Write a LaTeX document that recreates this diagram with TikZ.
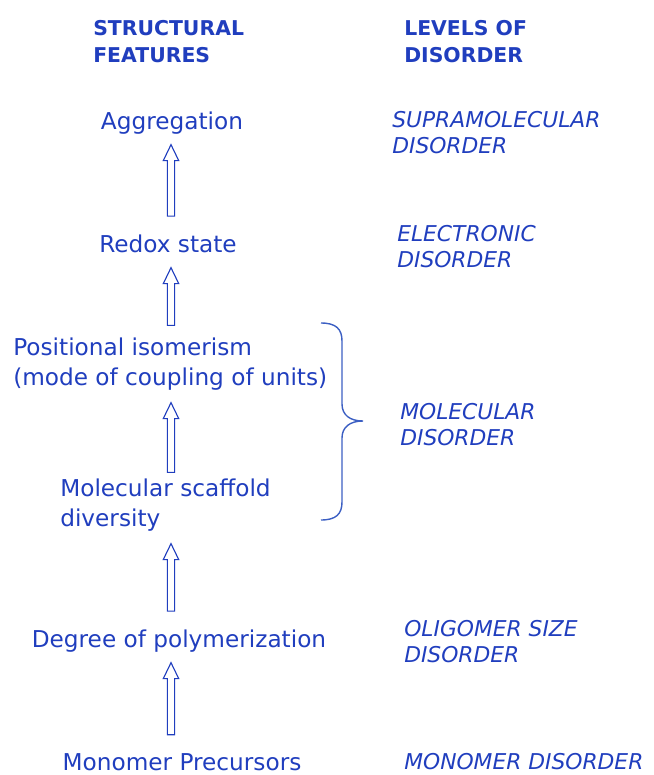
\documentclass[tikz,border=0pt]{standalone}
\usepackage{fontspec}
\setmainfont{DejaVu Sans}
\usetikzlibrary{calc}
\definecolor{inkblue}{RGB}{32,62,190}
\definecolor{braceblue}{RGB}{60,95,195}

% hollow block arrow from the lower node up to the upper node
\newcommand\liftarrow[3][0.45cm]{%
  \draw[liftarr] let \p1=(spine |- #2.north), \p2=(spine |- #3.south) in
    (\x1-2.6pt,\y1+#1) -- (\x1-2.6pt,\y2-0.3cm-0.4cm) -- (\x1-5.5pt,\y2-0.3cm-0.4cm)
    -- (\x1,\y2-0.3cm) -- (\x1+5.5pt,\y2-0.3cm-0.4cm) -- (\x1+2.6pt,\y2-0.3cm-0.4cm)
    -- (\x1+2.6pt,\y1+#1) -- cycle;}

\begin{document}
\begin{tikzpicture}[x=0.025cm, y=-0.025cm,
    heading/.style={inkblue, inner sep=0pt, anchor=west, align=left,
      font=\fontsize{14.5}{19.5}\selectfont\bfseries},
    feature/.style={inkblue, inner sep=0pt, align=left,
      font=\fontsize{16.5}{21.5}\selectfont},
    oneline/.style={feature, anchor=base, text depth=0.24em},
    level/.style={inkblue, inner sep=0pt, anchor=west, align=left,
      font=\fontsize{15.5}{18.5}\selectfont\itshape},
    liftarr/.style={inkblue, line width=0.8pt, line join=miter},
    curly/.style={braceblue, line width=1pt}]
  \useasboundingbox (0,0) rectangle (653,775);
  \coordinate (spine) at (171,0);

  % headings
  \node[heading] (headfeat) at (93,41.5) {STRUCTURAL\\FEATURES};
  \node[heading] (headlevel) at (404,41.5) {LEVELS OF\\DISORDER};

  % structural features
  \node[oneline] (aggr) at (172,129) {Aggregation};
  \node[oneline] (redox) at (168,252) {Redox state};
  \node[feature, anchor=west] (posit) at (13,364) {Positional isomerism\\(mode of coupling of units)};
  \node[feature, anchor=west] (scaff) at (60,505) {Molecular scaffold\\diversity};
  \node[oneline] (degree) at (179,647) {Degree of polymerization};
  \node[oneline] (monomer) at (182,770) {Monomer Precursors};

  % levels of disorder
  \node[level] (supra) at (392,133) {SUPRAMOLECULAR\\DISORDER};
  \node[level] (elec) at (397,247) {ELECTRONIC\\DISORDER};
  \node[level] (molec) at (400,425) {MOLECULAR\\DISORDER};
  \node[level] (oligo) at (404,641.5) {OLIGOMER SIZE\\DISORDER};
  \node[level] (monodis) at (404,762) {MONOMER DISORDER};

  \liftarrow{redox}{aggr}
  \liftarrow[0.3cm]{posit}{redox}
  \liftarrow[0.15cm]{scaff}{posit}
  \liftarrow{degree}{scaff}
  \liftarrow{monomer}{degree}

  % brace grouping the two molecular features
  \coordinate (bracetop) at (321,323);
  \coordinate (bracetip) at (363,421);
  \coordinate (bracebot) at (321,520);
  \draw[curly] (bracetop) .. controls (336,323) and (342,329) .. (342,341)
    -- (342,404) .. controls (342,415) and (350,421) .. (bracetip)
    .. controls (350,421) and (342,427) .. (342,438)
    -- (342,502) .. controls (342,514) and (336,520) .. (bracebot);
\end{tikzpicture}
\end{document}
